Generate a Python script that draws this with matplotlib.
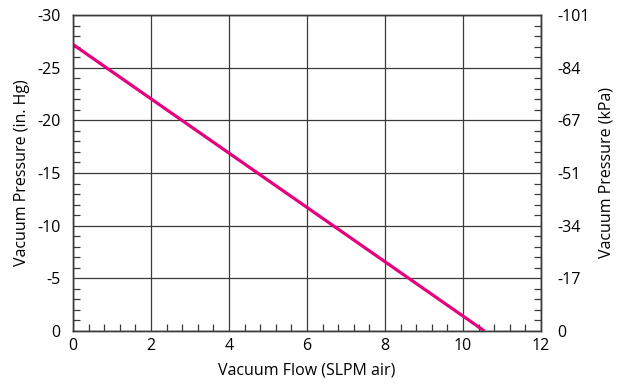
import matplotlib
matplotlib.use("Agg")
import matplotlib.pyplot as plt
from matplotlib.ticker import MultipleLocator

plt.rcParams['font.family'] = ['Open Sans', 'DejaVu Sans']
plt.rcParams['axes.unicode_minus'] = False

# data
flow = [0, 10.55]              # SLPM air
pressure = [-27.2, 0]          # in. Hg
inhg_ticks = [0, -5, -10, -15, -20, -25, -30]
inhg_labels = ['0', '-5', '-10', '-15', '-20', '-25', '-30']
kpa_labels = ['0', '-17', '-34', '-51', '-67', '-84', '-101']
x_ticks = [0, 2, 4, 6, 8, 10, 12]

edge = '#3a3a3a'

fig = plt.figure(figsize=(6.18, 3.85), dpi=100)
ax = fig.add_axes([73/618, 1 - 331/385, 468/618, 316/385])

ax.plot(flow, pressure, color='#e5007e', lw=2.3, solid_capstyle='butt', zorder=3)

ax.set_xlim(0, 12)
ax.set_ylim(0, -30)
ax.set_xticks(x_ticks)
ax.set_yticks(inhg_ticks)
ax.set_yticklabels(inhg_labels)
ax.xaxis.set_minor_locator(MultipleLocator(0.4))
ax.yaxis.set_minor_locator(MultipleLocator(1))
ax.grid(True, which='major', color=edge, lw=0.9)
ax.tick_params(which='both', direction='in', color=edge, labelsize=11.5)
ax.tick_params(axis='y', pad=9)
ax.tick_params(axis='x', pad=5)
ax.tick_params(which='major', length=0)
ax.tick_params(which='minor', length=5, width=0.9)
for s in ax.spines.values():
    s.set_color(edge)
    s.set_linewidth(1.0)

ax.set_xlabel('Vacuum Flow (SLPM air)', fontsize=11.5, labelpad=6)
ax.set_ylabel('Vacuum Pressure (in. Hg)', fontsize=11.5, labelpad=5)

ax2 = ax.twinx()
ax2.set_ylim(ax.get_ylim())
ax2.set_yticks(inhg_ticks)
ax2.set_yticklabels(kpa_labels)
ax2.yaxis.set_minor_locator(MultipleLocator(1))
ax2.tick_params(which='both', direction='in', color=edge, labelsize=11.5, pad=12)
ax2.tick_params(which='major', length=0)
ax2.tick_params(which='minor', length=5, width=0.9)
for s in ax2.spines.values():
    s.set_color(edge)
    s.set_linewidth(1.0)
ax2.set_ylabel('Vacuum Pressure (kPa)', fontsize=11.5, labelpad=6)

fig.savefig('out.png', dpi=100)
